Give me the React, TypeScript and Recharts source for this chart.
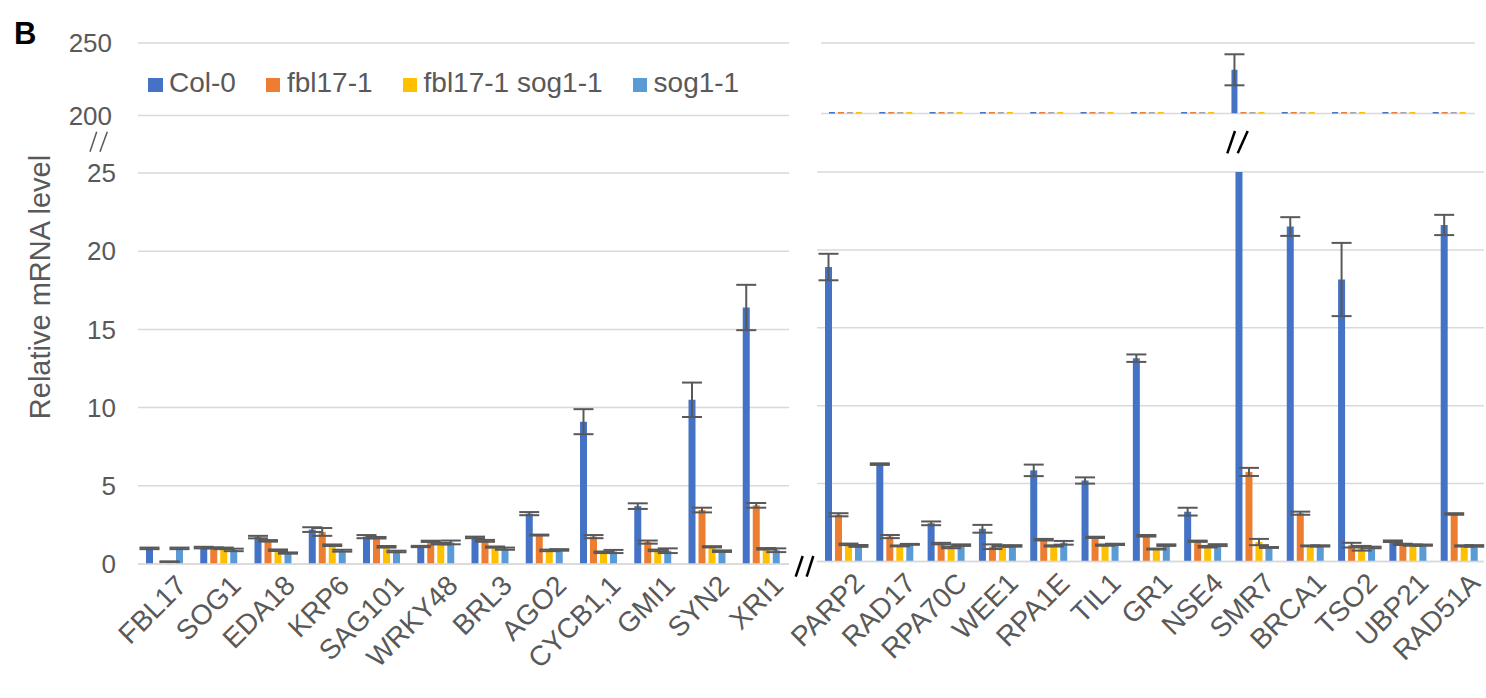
import React from "react";
import { BarChart, Bar, XAxis, YAxis, CartesianGrid, ErrorBar, Legend } from "recharts";

const FONT = "'Liberation Sans', Arial, sans-serif";
const TEXT = "#595959";
const GRID = "#d9d9d9";

// left panel
const leftGenes = ["FBL17", "SOG1", "EDA18", "KRP6", "SAG101", "WRKY48", "BRL3", "AGO2", "CYCB1,1", "GMI1", "SYN2", "XRI1"];
const leftCol0 = [1.0, 1.05, 1.72, 2.2, 1.75, 1.12, 1.7, 3.22, 9.1, 3.7, 10.5, 16.4];
const leftCol0Err = [0.05, 0.05, 0.08, 0.15, 0.1, 0.04, 0.05, 0.1, 0.8, 0.18, 1.1, 1.45];
const leftFbl = [0.02, 1.03, 1.48, 2.05, 1.68, 1.45, 1.48, 1.85, 1.75, 1.4, 3.45, 3.75];
const leftFblErr = [0, 0.03, 0.05, 0.25, 0.05, 0.04, 0.06, 0.03, 0.1, 0.1, 0.15, 0.15];
const leftDbl = [0.15, 1.0, 0.88, 1.2, 1.1, 1.3, 1.08, 0.87, 0.75, 0.87, 1.1, 0.97];
const leftDblErr = [0.02, 0.05, 0.05, 0.05, 0.05, 0.05, 0.04, 0.05, 0.05, 0.05, 0.04, 0.05];
const leftSog = [1.0, 0.9, 0.7, 0.85, 0.8, 1.38, 0.98, 0.9, 0.8, 0.85, 0.82, 0.88];
const leftSogErr = [0.05, 0.08, 0.04, 0.06, 0.05, 0.12, 0.07, 0.05, 0.1, 0.15, 0.05, 0.12];

// right panel
const rightGenes = ["PARP2", "RAD17", "RPA70C", "WEE1", "RPA1E", "TIL1", "GR1", "NSE4", "SMR7", "BRCA1", "TSO2", "UBP21", "RAD51A"];
const rightCol0 = [18.9, 6.25, 2.45, 2.1, 5.85, 5.2, 13.05, 3.2, 231, 21.5, 18.1, 1.3, 21.6];
const rightCol0Err = [0.85, 0.05, 0.12, 0.25, 0.37, 0.2, 0.24, 0.25, 11, 0.6, 2.35, 0.05, 0.65];
const rightFbl = [3.0, 1.6, 1.15, 0.95, 1.4, 1.55, 1.65, 1.3, 5.75, 3.1, 1.05, 1.1, 3.05];
const rightFblErr = [0.1, 0.1, 0.05, 0.15, 0.05, 0.04, 0.05, 0.04, 0.26, 0.1, 0.15, 0.04, 0.05];
const rightDbl = [1.1, 1.0, 0.9, 0.98, 1.0, 1.05, 0.8, 0.95, 1.25, 1.0, 0.85, 1.05, 1.0];
const rightDblErr = [0.05, 0.03, 0.05, 0.03, 0.04, 0.04, 0.03, 0.05, 0.2, 0.03, 0.15, 0.04, 0.04];
const rightSog = [1.0, 1.1, 1.05, 1.0, 1.2, 1.1, 1.05, 1.05, 0.9, 1.0, 0.9, 1.05, 1.0];
const rightSogErr = [0.06, 0.03, 0.05, 0.05, 0.12, 0.04, 0.05, 0.06, 0.03, 0.04, 0.05, 0.04, 0.05];

const lowerTicks = [0, 5, 10, 15, 20, 25];
const upperTicks = [200, 250];

const SERIES = [
  { key: "col0", name: "Col-0", color: "#4472C4", stub: "#4472C4" },
  { key: "fbl", name: "fbl17-1", color: "#ED7D31", stub: "#ED7D31" },
  { key: "dbl", name: "fbl17-1 sog1-1", color: "#FFC000", stub: "#A5A5A5" },
  { key: "sog", name: "sog1-1", color: "#5B9BD5", stub: "#FFC000" },
];

const makeRows = (genes: string[], c: number[], ce: number[], f: number[], fe: number[], d: number[], de: number[], s: number[], se: number[]) =>
  genes.map((gene, i) => ({
    gene,
    col0: c[i], col0Err: ce[i],
    fbl: f[i], fblErr: fe[i],
    dbl: d[i], dblErr: de[i],
    sog: s[i], sogErr: se[i],
  }));

const leftRows = makeRows(leftGenes, leftCol0, leftCol0Err, leftFbl, leftFblErr, leftDbl, leftDblErr, leftSog, leftSogErr);
const rightRows = makeRows(rightGenes, rightCol0, rightCol0Err, rightFbl, rightFblErr, rightDbl, rightDblErr, rightSog, rightSogErr);

function GeneTick(props: any) {
  const { x, y, payload } = props;
  const ax = x + 9;
  const ay = y + 9;
  return (
    <text x={ax} y={ay} dy="0.72em" transform={`rotate(-45 ${ax} ${ay})`} textAnchor="end"
      fontSize={28} fill={TEXT} fontFamily={FONT}>
      {payload.value}
    </text>
  );
}

// values under the upper axis minimum show as a thin dash on the 200 line
function StubBar(props: any) {
  const { x, y, width, height, fill, value, background } = props;
  const v = Array.isArray(value) ? value[1] : value;
  if (v >= 200) return <rect x={x} y={y} width={width} height={height} fill={fill} />;
  const base = background ? background.y + background.height : y + height;
  return <rect x={x} y={base - 1.5} width={width} height={3} fill={fill} />;
}

const renderLegend = (props: any) => (
  <div style={{ display: "flex", alignItems: "center", fontFamily: FONT, fontSize: 28, color: TEXT, lineHeight: "28px", whiteSpace: "nowrap" }}>
    {props.payload.map((p: any) => (
      <div key={p.value} style={{ display: "flex", alignItems: "center", marginRight: 30 }}>
        <span style={{ display: "inline-block", width: 14.5, height: 14.5, background: p.color, marginRight: 6.5, marginTop: 4 }} />
        <span>{p.value}</span>
      </div>
    ))}
  </div>
);

const yTick = { fontSize: 26, fill: TEXT, fontFamily: FONT };

export default function App() {
  return (
    <div style={{ position: "absolute", left: 0, top: 0, width: 1486, height: 698, background: "#fff", fontFamily: FONT }}>
      {/* left, upper part */}
      <div style={{ position: "absolute", left: 0, top: 28 }}>
        <BarChart width={792} height={102.4} data={leftRows} margin={{ top: 15, right: 3, bottom: 15, left: 0 }} barCategoryGap={8} barGap={3}>
          <CartesianGrid vertical={false} stroke={GRID} strokeWidth={1.5} />
          <XAxis dataKey="gene" hide />
          <YAxis width={138} domain={[200, 250]} ticks={upperTicks} allowDataOverflow interval={0}
            axisLine={false} tickLine={false} tickSize={0} tickMargin={26} tick={yTick} />
          <Legend content={renderLegend} verticalAlign="middle" align="center" wrapperStyle={{ left: 148, top: 41, width: "auto" }} />
          {SERIES.map((s) => (
            <Bar key={s.key} dataKey={s.key} name={s.name} fill={s.color} isAnimationActive={false} shape={() => <g />} />
          ))}
        </BarChart>
      </div>

      {/* left, lower part */}
      <div style={{ position: "absolute", left: 0, top: 158 }}>
        <BarChart width={812} height={536} data={leftRows} margin={{ top: 15, right: 23, bottom: 0, left: 0 }} barCategoryGap={8} barGap={3}>
          <CartesianGrid vertical={false} stroke={GRID} strokeWidth={1.5} />
          <XAxis dataKey="gene" interval={0} height={130} tickLine={false} tickSize={0} tickMargin={0}
            axisLine={{ stroke: GRID, strokeWidth: 1.5 }} tick={<GeneTick />} />
          <YAxis width={138} domain={[0, 25]} ticks={lowerTicks} allowDataOverflow interval={0}
            axisLine={false} tickLine={false} tickSize={0} tickMargin={22} tick={yTick} />
          {SERIES.map((s) => (
            <Bar key={s.key} dataKey={s.key} name={s.name} fill={s.color} isAnimationActive={false}>
              <ErrorBar dataKey={s.key + "Err"} width={10} stroke={TEXT} strokeWidth={2} />
            </Bar>
          ))}
        </BarChart>
      </div>

      {/* right, upper part */}
      <div style={{ position: "absolute", left: 816, top: 40 }}>
        <BarChart width={664} height={76.5} data={rightRows} margin={{ top: 3, right: 5, bottom: 3, left: 5 }} barCategoryGap={8} barGap={3}>
          <CartesianGrid vertical={false} stroke={GRID} strokeWidth={1.5} />
          <XAxis dataKey="gene" hide />
          <YAxis hide domain={[200, 250]} ticks={upperTicks} allowDataOverflow />
          {SERIES.map((s) => (
            <Bar key={s.key} dataKey={s.key} name={s.name} fill={s.stub} isAnimationActive={false} shape={<StubBar />}>
              {s.key === "col0" && <ErrorBar dataKey="col0Err" width={10} stroke={TEXT} strokeWidth={2} />}
            </Bar>
          ))}
        </BarChart>
      </div>

      {/* right, lower part */}
      <div style={{ position: "absolute", left: 760, top: 169 }}>
        <BarChart width={726} height={522.5} data={rightRows} margin={{ top: 3, right: 2, bottom: 0, left: 57 }} barCategoryGap={8} barGap={3}>
          <CartesianGrid vertical={false} stroke={GRID} strokeWidth={1.5} />
          <XAxis dataKey="gene" interval={0} height={130} tickLine={false} tickSize={0} tickMargin={0}
            axisLine={{ stroke: GRID, strokeWidth: 1.5 }} tick={<GeneTick />} />
          <YAxis hide domain={[0, 25]} ticks={lowerTicks} allowDataOverflow />
          {SERIES.map((s) => (
            <Bar key={s.key} dataKey={s.key} name={s.name} fill={s.color} isAnimationActive={false}>
              <ErrorBar dataKey={s.key + "Err"} width={10} stroke={TEXT} strokeWidth={2} />
            </Bar>
          ))}
        </BarChart>
      </div>

      {/* panel letter, axis title and break marks */}
      <svg width={1486} height={698} style={{ position: "absolute", left: 0, top: 0, pointerEvents: "none" }}>
        <text x={14} y={44} fontSize={31} fontWeight="bold" fill="#000" fontFamily={FONT}>B</text>
        <text transform="translate(50 287) rotate(-90)" textAnchor="middle" fontSize={29} fill={TEXT} fontFamily={FONT}>
          Relative mRNA level
        </text>
        <g stroke={TEXT} strokeWidth={1.5}>
          <line x1={90} y1={151.7} x2={96.7} y2={131.7} />
          <line x1={100} y1={151.7} x2={107.3} y2={131.7} />
        </g>
        <g stroke="#000" strokeWidth={2.5}>
          <line x1={795.7} y1={576.7} x2={802.7} y2={556} />
          <line x1={806.7} y1={576.7} x2={813.3} y2={556} />
          <line x1={1227.3} y1={153.3} x2={1235} y2={131} />
          <line x1={1237.7} y1={153.3} x2={1247.7} y2={131} />
        </g>
      </svg>
    </div>
  );
}
